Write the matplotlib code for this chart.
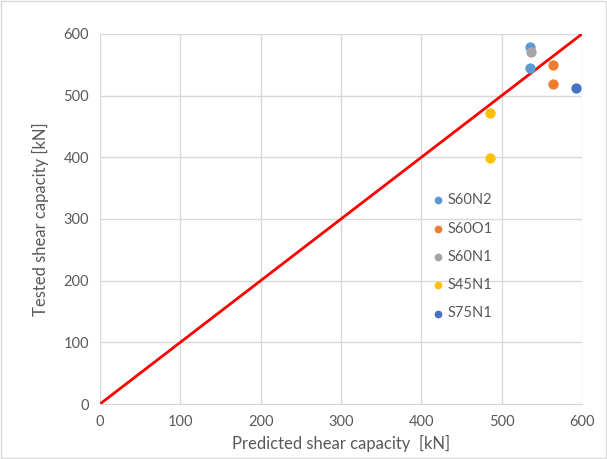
import matplotlib.pyplot as plt
import matplotlib.patches as mpatches

# series
names = ['S60N2', 'S60O1', 'S60N1', 'S45N1', 'S75N1']
colors = ['#5B9BD5', '#ED7D31', '#A5A5A5', '#FFC000', '#4472C4']
predicted = [[535, 535], [564, 564], [537], [486, 486], [593]]
tested = [[579, 545], [549, 519], [571], [472, 399], [512]]
line_x = [0, 600]
line_y = [0, 600]
ticks = [0, 100, 200, 300, 400, 500, 600]

plt.rcParams['font.family'] = ['Lato', 'DejaVu Sans']

fig = plt.figure(figsize=(6.07, 4.59), dpi=100)
ax = fig.add_axes([0.1647, 0.1198, 0.7941, 0.8062])

for name, c, px, ty in zip(names, colors, predicted, tested):
    ax.scatter(px, ty, s=55, color=c, label=name, zorder=3, linewidths=0)
ax.plot(line_x, line_y, color='#FF0000', lw=2, zorder=2)

ax.set_xlim(0, 600)
ax.set_ylim(0, 600)
ax.set_xticks(ticks)
ax.set_yticks(ticks)
ax.grid(True, color='#D9D9D9', lw=1)
ax.set_axisbelow(True)
for s in ['top', 'right', 'left']:
    ax.spines[s].set_visible(False)
ax.spines['bottom'].set_color('#D9D9D9')
ax.tick_params(length=0, labelsize=10.5, colors='#595959', pad=8)

ax.set_xlabel('Predicted shear capacity  [kN]', fontsize=12, color='#595959', labelpad=4)
ax.set_ylabel('Tested shear capacity [kN]', fontsize=12, color='#595959', labelpad=10)

ax.legend(loc='upper left', bbox_to_anchor=(0.655, 0.605), frameon=False,
          fontsize=10.5, labelcolor='#595959', handletextpad=0.1,
          labelspacing=0.98, handlelength=1.2, markerscale=0.75)

fig.add_artist(mpatches.Rectangle((0.002, 0.002), 0.996, 0.996, transform=fig.transFigure,
                                  fill=False, edgecolor='#D9D9D9', lw=1))

fig.savefig('out.png', dpi=100)
